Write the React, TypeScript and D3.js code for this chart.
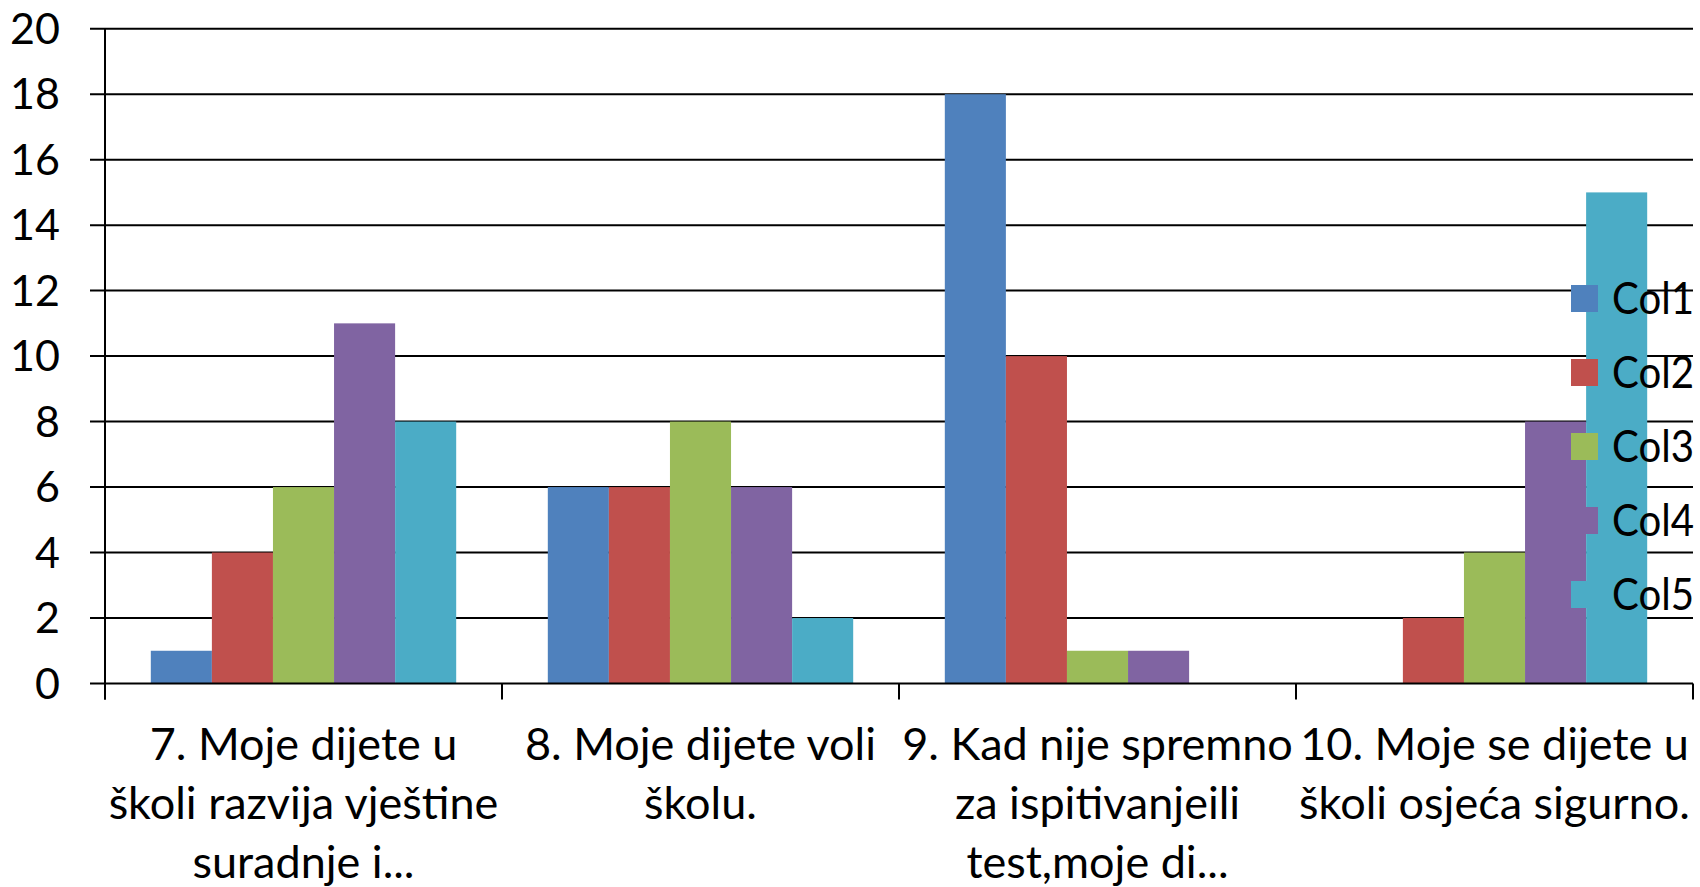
import * as d3 from "d3";
import React, { Component } from "react";

const width = 1700;
const height = 887;
const plot = { left: 105, right: 1693, top: 28.7, bottom: 683.5 };

// category labels, already wrapped the way the chart shows them
const categoryLines = [
  ["7. Moje dijete u", "školi razvija vještine", "suradnje i..."],
  ["8. Moje dijete voli", "školu."],
  ["9. Kad nije spremno", "za ispitivanjeili", "test,moje di..."],
  ["10. Moje se dijete u", "školi osjeća sigurno."],
];
const categories = categoryLines.map((l) => l.join(" "));

const seriesNames = ["Col1", "Col2", "Col3", "Col4", "Col5"];
const col1 = [1, 6, 18, 0];
const col2 = [4, 6, 10, 2];
const col3 = [6, 8, 1, 4];
const col4 = [11, 6, 1, 8];
const col5 = [8, 2, 0, 15];
const yTicks = [0, 2, 4, 6, 8, 10, 12, 14, 16, 18, 20];

const colors = ["#4F81BD", "#C0504D", "#9BBB59", "#8064A2", "#4BACC6"];
const font = "Lato, 'Open Sans', sans-serif";

class BarChart extends Component {
  svgRef: any;

  constructor(props: any) {
    super(props);
    this.svgRef = React.createRef();
  }

  componentDidMount() {
    this.draw();
  }

  draw() {
    const svg = d3.select(this.svgRef.current);
    svg.selectAll("*").remove();

    const series = [col1, col2, col3, col4, col5];

    const xScale = d3.scaleBand().domain(categories).range([plot.left, plot.right]).padding(0);
    const inner = d3
      .scaleBand()
      .domain(seriesNames)
      .range([0, xScale.bandwidth()])
      .paddingInner(0)
      .paddingOuter(0.75);
    const yScale = d3.scaleLinear().domain([0, 20]).range([plot.bottom, plot.top]);

    // gridlines
    svg
      .append("g")
      .selectAll("line")
      .data(yTicks.filter((t) => t > 0))
      .enter()
      .append("line")
      .attr("x1", plot.left - 15)
      .attr("x2", plot.right)
      .attr("y1", (d) => yScale(d))
      .attr("y2", (d) => yScale(d))
      .attr("stroke", "#000")
      .attr("stroke-width", 2);

    // bars
    const rows: any[] = [];
    categories.forEach((c, ci) => {
      seriesNames.forEach((s, si) => {
        rows.push({ c, s, si, v: series[si][ci] });
      });
    });
    svg
      .append("g")
      .selectAll("rect")
      .data(rows.filter((r) => r.v > 0))
      .enter()
      .append("rect")
      .attr("x", (d) => (xScale(d.c) as number) + (inner(d.s) as number))
      .attr("y", (d) => yScale(d.v))
      .attr("width", inner.bandwidth())
      .attr("height", (d) => yScale(0) - yScale(d.v))
      .attr("fill", (d) => colors[d.si]);

    // axes
    const axes = svg.append("g").attr("stroke", "#000").attr("stroke-width", 2);
    axes
      .append("line")
      .attr("x1", plot.left)
      .attr("x2", plot.left)
      .attr("y1", plot.top)
      .attr("y2", plot.bottom + 16);
    axes
      .append("line")
      .attr("x1", plot.left - 15)
      .attr("x2", plot.right)
      .attr("y1", plot.bottom)
      .attr("y2", plot.bottom);
    const bounds = categories.map((c) => xScale(c) as number).concat([plot.right]);
    axes
      .selectAll(".xtick")
      .data(bounds)
      .enter()
      .append("line")
      .attr("x1", (d) => d)
      .attr("x2", (d) => d)
      .attr("y1", plot.bottom)
      .attr("y2", plot.bottom + 16);

    // y tick labels
    svg
      .append("g")
      .selectAll("text")
      .data(yTicks)
      .enter()
      .append("text")
      .attr("x", 60)
      .attr("y", (d) => yScale(d))
      .attr("dy", "0.35em")
      .attr("text-anchor", "end")
      .attr("font-family", font)
      .attr("font-size", 43)
      .attr("fill", "#000")
      .text((d) => d);

    // category labels
    const catG = svg
      .append("g")
      .selectAll("text")
      .data(categoryLines)
      .enter()
      .append("text")
      .attr("text-anchor", "middle")
      .attr("font-family", font)
      .attr("font-size", 45)
      .attr("fill", "#000");
    catG
      .selectAll("tspan")
      .data((d, i) => d.map((line) => ({ line, i })))
      .enter()
      .append("tspan")
      .attr("x", (d) => (xScale(categories[d.i]) as number) + xScale.bandwidth() / 2)
      .attr("y", (d, j) => 760 + j * 59)
      .text((d) => d.line);

    // legend (drawn over the bars, like the original)
    const legend = svg
      .append("g")
      .selectAll("g")
      .data(seriesNames)
      .enter()
      .append("g")
      .attr("transform", (d, i) => "translate(1571," + (285 + i * 74) + ")");
    legend
      .append("rect")
      .attr("width", 27)
      .attr("height", 27)
      .attr("fill", (d, i) => colors[i]);
    legend
      .append("text")
      .attr("x", 41)
      .attr("y", 29)
      .attr("font-family", font)
      .attr("font-size", 44)
      .attr("textLength", 82)
      .attr("lengthAdjust", "spacingAndGlyphs")
      .attr("fill", "#000")
      .text((d) => d);
  }

  render() {
    return (
      <svg
        ref={this.svgRef}
        width={width}
        height={height}
        style={{ position: "absolute", left: 0, top: 0, background: "#fff" }}
      />
    );
  }
}

export default function App() {
  return <BarChart />;
}
